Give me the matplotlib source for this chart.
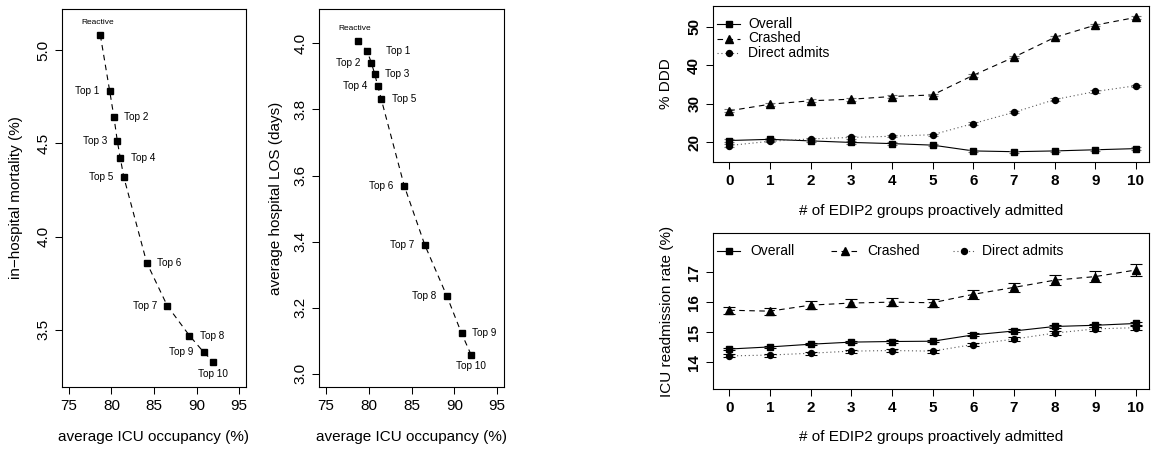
import matplotlib
matplotlib.use("Agg")
import matplotlib.pyplot as plt
from matplotlib.lines import Line2D

plt.rcParams['font.family'] = ['Liberation Sans', 'DejaVu Sans']

# ---- policy frontier (left two panels) ----
policies = ["Reactive", "Top 1", "Top 2", "Top 3", "Top 4", "Top 5",
            "Top 6", "Top 7", "Top 8", "Top 9", "Top 10"]
icu_occupancy = [78.7, 79.8, 80.3, 80.7, 81.05, 81.45, 84.15, 86.55, 89.15, 90.85, 91.95]
mortality = [5.08, 4.78, 4.64, 4.51, 4.42, 4.32, 3.86, 3.63, 3.47, 3.38, 3.33]
hospital_los = [4.008, 3.978, 3.942, 3.908, 3.872, 3.833, 3.569, 3.39, 3.234, 3.122, 3.058]
mort_label_side = ["above", "left", "right", "left", "right", "left",
                   "right", "left", "right", "left", "below"]
los_label_side = ["above", "right", "left", "right", "left", "right",
                  "left", "left", "left", "right", "below"]
los_label_gap = [9, 13.5, 7.5, 7.5, 7.5, 7.5, 7.5, 7.5, 7.5, 7.5, 8]
mort_label_gap = [9, 7.5, 7.5, 7.5, 7.5, 7.5, 7.5, 7.5, 7.5, 7.5, 9]

# ---- proactive admission of EDIP2 groups (right panels) ----
groups = [0, 1, 2, 3, 4, 5, 6, 7, 8, 9, 10]
ddd_overall = [20.5, 20.8, 20.4, 20.0, 19.7, 19.3, 17.8, 17.6, 17.8, 18.1, 18.4]
ddd_crashed = [28.2, 29.9, 30.8, 31.2, 31.9, 32.3, 37.4, 42.1, 47.2, 50.4, 52.4]
ddd_direct = [19.2, 20.3, 20.9, 21.3, 21.6, 22.0, 24.9, 27.8, 31.1, 33.2, 34.7]
ddd_overall_err = [0.3, 0.3, 0.3, 0.3, 0.3, 0.3, 0.3, 0.3, 0.3, 0.3, 0.3]
ddd_crashed_err = [0.35, 0.35, 0.35, 0.35, 0.35, 0.35, 0.35, 0.35, 0.35, 0.35, 0.35]
ddd_direct_err = [0.3, 0.3, 0.3, 0.3, 0.3, 0.3, 0.3, 0.3, 0.3, 0.3, 0.3]

readm_overall = [14.44, 14.51, 14.60, 14.67, 14.69, 14.70, 14.91, 15.04, 15.19, 15.23, 15.29]
readm_crashed = [15.73, 15.70, 15.90, 15.97, 16.00, 15.98, 16.26, 16.49, 16.73, 16.85, 17.07]
readm_direct = [14.21, 14.24, 14.30, 14.37, 14.39, 14.37, 14.59, 14.77, 14.97, 15.11, 15.15]
readm_overall_err = [0.04, 0.04, 0.04, 0.04, 0.04, 0.04, 0.05, 0.05, 0.05, 0.05, 0.06]
readm_crashed_err = [0.12, 0.12, 0.13, 0.13, 0.13, 0.14, 0.15, 0.16, 0.17, 0.18, 0.19]
readm_direct_err = [0.05, 0.05, 0.05, 0.05, 0.05, 0.05, 0.06, 0.06, 0.07, 0.07, 0.07]

W, H = 1153, 450
fig = plt.figure(figsize=(W / 100, H / 100), dpi=100)


def add_box(left, right, top, bottom):
    return fig.add_axes([left / W, 1 - bottom / H, (right - left) / W, (bottom - top) / H])


def style_axes(ax, bold=False):
    for s in ax.spines.values():
        s.set_linewidth(0.8)
    ax.tick_params(direction='out', length=5, width=0.75, labelsize=11, pad=3.5)
    ax.tick_params(axis='y', labelrotation=90)
    for lab in ax.get_yticklabels():
        lab.set_va('center')
    if bold:
        for lab in ax.get_xticklabels() + ax.get_yticklabels():
            lab.set_fontweight('bold')


LINE_KW = dict(color='black', linewidth=0.8)
DASH = (0, (5, 4))


def frontier(ax, x, y, sides, gaps):
    ax.plot(x, y, linestyle=DASH, **LINE_KW, zorder=2)
    ax.plot(x, y, linestyle='none', marker='s', markersize=4.3, color='black', zorder=3)
    for name, xi, yi, side, g in zip(policies, x, y, sides, gaps):
        size = 6 if name == "Reactive" else 7.2
        if side == "left":
            off, ha, va = (-g, 0), 'right', 'center'
        elif side == "right":
            off, ha, va = (g, 0), 'left', 'center'
        elif side == "above":
            off, ha, va = (-2, g), 'center', 'center'
        else:
            off, ha, va = (0, -g), 'center', 'center'
        ax.annotate(name, (xi, yi), xytext=off, textcoords='offset points',
                    ha=ha, va=va, fontsize=size)


# left panel: mortality
ax1 = add_box(62, 246, 9, 387)
frontier(ax1, icu_occupancy, mortality, mort_label_side, mort_label_gap)
ax1.set_xlim(74.2, 95.8)
ax1.set_ylim(3.194, 5.22)
ax1.set_xticks([75, 80, 85, 90, 95])
ax1.set_yticks([3.5, 4.0, 4.5, 5.0])
ax1.set_yticklabels(["3.5", "4.0", "4.5", "5.0"])
style_axes(ax1)
ax1.set_xlabel("average ICU occupancy (%)", fontsize=11)
ax1.set_ylabel("in\u2212hospital mortality (%)", fontsize=11)
ax1.xaxis.set_label_coords(0.5, (387 - 437) / 378)
ax1.xaxis.label.set_va('center')
ax1.yaxis.set_label_coords((16 - 62) / 184, 0.5)
ax1.yaxis.label.set_va('center')

# middle panel: length of stay
ax2 = add_box(319, 504, 9, 387)
frontier(ax2, icu_occupancy, hospital_los, los_label_side, los_label_gap)
ax2.set_xlim(74.2, 95.8)
ax2.set_ylim(2.96, 4.104)
ax2.set_xticks([75, 80, 85, 90, 95])
ax2.set_yticks([3.0, 3.2, 3.4, 3.6, 3.8, 4.0])
ax2.set_yticklabels(["3.0", "3.2", "3.4", "3.6", "3.8", "4.0"])
style_axes(ax2)
ax2.set_xlabel("average ICU occupancy (%)", fontsize=11)
ax2.set_ylabel("average hospital LOS (days)", fontsize=11)
ax2.xaxis.set_label_coords(0.5, (387 - 437) / 378)
ax2.xaxis.label.set_va('center')
ax2.yaxis.set_label_coords((276 - 319) / 185, 0.5)
ax2.yaxis.label.set_va('center')

SERIES = [
    ("Overall", '-', 's', 4.5),
    ("Crashed", DASH, '^', 5.5),
    ("Direct admits", (0, (1, 2.5)), 'o', 4.3),
]


def outcome_panel(ax, values, errors, ecolor, capsize):
    for (name, ls, mk, ms), y, e in zip(SERIES, values, errors):
        col = '0.35' if name == "Direct admits" else 'black'
        ax.plot(groups, y, linestyle=ls, color=col, linewidth=0.8, zorder=2)
        ax.errorbar(groups, y, yerr=e, fmt='none', ecolor=ecolor, elinewidth=0.8,
                    capsize=capsize, capthick=0.8, zorder=3)
        ax.plot(groups, y, linestyle='none', marker=mk, markersize=ms, color='black', zorder=4)


def legend_entry(ax, x0, x1, xt, y, series):
    name, ls, mk, ms = series
    col = '0.35' if name == "Direct admits" else 'black'
    ax.add_line(Line2D([x0 / 436, x1 / 436], [y, y], transform=ax.transAxes,
                       linestyle=ls, color=col, linewidth=0.8))
    ax.add_line(Line2D([(x0 + x1) / 2 / 436], [y], transform=ax.transAxes,
                       marker=mk, markersize=ms, color='black', linestyle='none'))
    ax.text(xt / 436, y, name, transform=ax.transAxes, ha='left', va='center', fontsize=10)


# top right: % DDD
ax3 = add_box(713, 1149, 6, 162)
outcome_panel(ax3, [ddd_overall, ddd_crashed, ddd_direct],
              [ddd_overall_err, ddd_crashed_err, ddd_direct_err], '0.45', 3.5)
ax3.set_xlim(-0.4, 10.32)
ax3.set_ylim(14.93, 55.35)
ax3.set_xticks(groups)
ax3.set_yticks([20, 30, 40, 50])
style_axes(ax3, bold=True)
ax3.set_xlabel("# of EDIP2 groups proactively admitted", fontsize=11)
ax3.set_ylabel("% DDD", fontsize=11)
ax3.xaxis.set_label_coords(0.5, (162 - 211) / 156)
ax3.xaxis.label.set_va('center')
ax3.yaxis.set_label_coords((666 - 713) / 436, 0.5)
ax3.yaxis.label.set_va('center')
for s, yy in zip(SERIES, [1 - (23.5 - 6) / 156, 1 - (38.5 - 6) / 156, 1 - (53 - 6) / 156]):
    legend_entry(ax3, 4, 27, 35, yy, s)

# bottom right: ICU readmission
ax4 = add_box(713, 1149, 233, 389)
outcome_panel(ax4, [readm_overall, readm_crashed, readm_direct],
              [readm_overall_err, readm_crashed_err, readm_direct_err], 'black', 4)
ax4.set_xlim(-0.4, 10.32)
ax4.set_ylim(13.11, 18.3)
ax4.set_xticks(groups)
ax4.set_yticks([14, 15, 16, 17])
style_axes(ax4, bold=True)
ax4.set_xlabel("# of EDIP2 groups proactively admitted", fontsize=11)
ax4.set_ylabel("ICU readmission rate (%)", fontsize=11)
ax4.xaxis.set_label_coords(0.5, (389 - 437) / 156)
ax4.xaxis.label.set_va('center')
ax4.yaxis.set_label_coords((667 - 713) / 436, 0.5)
ax4.yaxis.label.set_va('center')
yl = 1 - (250.7 - 233) / 156
legend_entry(ax4, 4, 27, 37, yl, SERIES[0])
legend_entry(ax4, 118, 145, 154, yl, SERIES[1])
legend_entry(ax4, 240, 262, 269, yl, SERIES[2])

fig.savefig("out.png", dpi=100)
